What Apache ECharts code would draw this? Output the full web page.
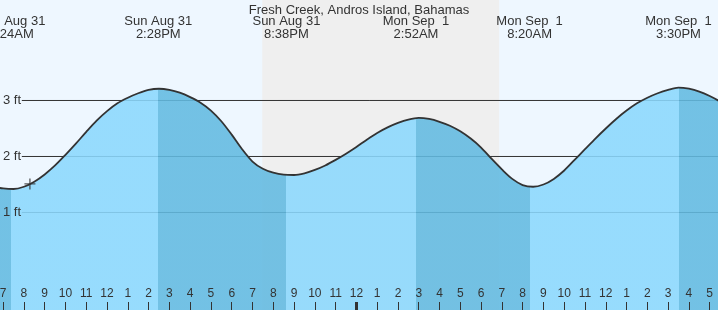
<!DOCTYPE html>
<html>
<head>
<meta charset="utf-8">
<script src="https://cdn.jsdelivr.net/npm/echarts@6/dist/echarts.min.js"></script>
<style>
html,body{margin:0;padding:0;background:#eef7ff;}
#chart{width:718px;height:310px;}
</style>
</head>
<body>
<div id="chart"></div>
<script>
// ---- data (hours counted from midnight starting Sun Aug 31) ----
const titleText = 'Fresh Creek, Andros Island, Bahamas';
const tideHours = [6.5, 7, 7.5, 8, 8.5, 9, 9.5, 10, 10.5, 11, 11.5, 12, 12.5, 13, 13.5, 14, 14.5,
  15, 15.5, 16, 16.5, 17, 17.5, 18, 18.5, 19, 19.5, 20, 20.5, 21, 21.5, 22, 22.5, 23, 23.5, 24,
  24.5, 25, 25.5, 26, 26.5, 27, 27.5, 28, 28.5, 29, 29.5, 30, 30.5, 31, 31.5, 32, 32.5, 33, 33.5,
  34, 34.5, 35, 35.5, 36, 36.5, 37, 37.5, 38, 38.5, 39, 39.5, 40, 40.5, 41, 41.5, 42];
const tideFeet = [1.46, 1.43, 1.42, 1.46, 1.55, 1.68, 1.84, 2.03, 2.23, 2.44, 2.64, 2.81, 2.95, 3.05, 3.13, 3.19, 3.21,
  3.19, 3.14, 3.06, 2.96, 2.82, 2.63, 2.39, 2.13, 1.91, 1.78, 1.71, 1.675, 1.67, 1.70, 1.76, 1.84, 1.94, 2.05, 2.17,
  2.30, 2.42, 2.52, 2.60, 2.66, 2.69, 2.67, 2.62, 2.55, 2.45, 2.32, 2.16, 1.96, 1.77, 1.60, 1.49, 1.46, 1.50, 1.60,
  1.75, 1.94, 2.13, 2.32, 2.50, 2.67, 2.82, 2.95, 3.05, 3.13, 3.19, 3.23, 3.21, 3.16, 3.08, 2.98, 2.84];
const extremeHours = [7.4, 14.467, 20.633, 26.867, 32.333, 39.5];
const extremeDays  = ['Sun Aug 31', 'Sun Aug 31', 'Sun Aug 31', 'Mon Sep  1', 'Mon Sep  1', 'Mon Sep  1'];
const extremeTimes = ['7:24AM', '2:28PM', '8:38PM', '2:52AM', '8:20AM', '3:30PM'];
const hourTicks  = [7, 8, 9, 10, 11, 12, 13, 14, 15, 16, 17, 18, 19, 20, 21, 22, 23, 24, 25, 26, 27, 28, 29, 30, 31, 32, 33, 34, 35, 36, 37, 38, 39, 40, 41];
const hourLabels = ['7','8','9','10','11','12','1','2','3','4','5','6','7','8','9','10','11','12','1','2','3','4','5','6','7','8','9','10','11','12','1','2','3','4','5'];
const midnightHours = [24];
const levelFeet   = [1, 2, 3];
const levelLabels = ['1 ft', '2 ft', '3 ft'];
const sunsetHour = 19.47, sunriseHour = 30.87;
const nowHour = 8.29, nowFeet = 1.51;

// ---- view settings ----
const xMin = 6.85, xMax = 41.40;
const yMin = -0.7411, yMax = 4.7946;
const levelStart = 7.9;
const FONT = 'Liberation Sans, Arial, sans-serif';
const INK = '#333333';
const LIGHT = 'rgb(139,216,253)';
const DARK = 'rgb(98,186,225)';

const pieces = [];
let prev = null;
extremeHours.forEach((h, i) => {
  const p = { lt: h, color: (i % 2 === 0) ? DARK : LIGHT };
  if (prev !== null) p.gte = prev;
  pieces.push(p);
  prev = h;
});
pieces.push({ gte: prev, color: DARK });

const tideData = tideHours.map((h, i) => [h, tideFeet[i]]);

const baseX = {
  type: 'value', min: xMin, max: xMax, z: 10,
  axisLine: { show: false, onZero: false }, splitLine: { show: false }
};

const series = [
  {
    // night shading
    type: 'line', z: 1, data: tideData, showSymbol: false, lineStyle: { color: 'transparent', width: 0 }, silent: true,
    markArea: {
      silent: true,
      itemStyle: { color: '#efefef' },
      data: [[{ xAxis: sunsetHour, yAxis: yMin }, { xAxis: sunriseHour, yAxis: yMax }]]
    }
  }
];
levelFeet.forEach(v => {
  series.push({
    type: 'line', z: 2, silent: true, showSymbol: false,
    data: [[levelStart, v], [xMax, v]],
    lineStyle: { color: INK, width: 1 }
  });
});
const areaIndex = series.length;
series.push(
  {
    // water fill
    type: 'line', z: 3, data: tideData, smooth: 0.3, showSymbol: false,
    lineStyle: { width: 0 },
    areaStyle: { opacity: 0.88, origin: 'start' }
  },
  {
    // tide curve
    type: 'line', z: 4, data: tideData, smooth: 0.3, showSymbol: false,
    lineStyle: { color: INK, width: 1.8 }
  },
  {
    // current time marker
    type: 'scatter', z: 6, data: [[nowHour, nowFeet]],
    symbol: 'path://M4.4,0h1.2v10h-1.2z M0,4.4h10v1.2h-10z', symbolSize: 11,
    itemStyle: { color: INK }
  }
);

const chart = echarts.init(document.getElementById('chart'), null, { renderer: 'canvas' });
chart.setOption({
  animation: false,
  backgroundColor: '#eef7ff',
  textStyle: { fontFamily: FONT },
  title: {
    text: titleText, left: 'center', top: -1, z: 12,
    textStyle: { fontFamily: FONT, fontSize: 13, fontWeight: 'normal', color: INK, lineHeight: 13 }
  },
  grid: { left: 0, right: 0, top: 0, bottom: 0, containLabel: false, outerBoundsMode: 'none' },
  xAxis: [
    Object.assign({}, baseX, {
      position: 'bottom',
      axisTick: { show: true, inside: true, length: 8, customValues: hourTicks, lineStyle: { color: INK, width: 1 } },
      axisLabel: {
        show: true, inside: true, margin: 10, customValues: hourTicks,
        fontFamily: FONT, fontSize: 12, color: INK,
        formatter: v => hourLabels[hourTicks.indexOf(Math.round(v))]
      }
    }),
    Object.assign({}, baseX, {
      position: 'top',
      axisTick: { show: false },
      axisLabel: {
        show: true, inside: true, margin: 14.5, customValues: extremeHours,
        fontFamily: FONT, fontSize: 13, color: INK, lineHeight: 13, align: 'center',
        formatter: v => {
          let k = 0;
          extremeHours.forEach((h, i) => { if (Math.abs(h - v) < Math.abs(extremeHours[k] - v)) k = i; });
          return extremeDays[k] + '\n' + extremeTimes[k];
        }
      }
    }),
    Object.assign({}, baseX, {
      position: 'bottom',
      axisTick: { show: true, inside: true, length: 8, customValues: midnightHours, lineStyle: { color: INK, width: 3 } },
      axisLabel: { show: false }
    })
  ],
  yAxis: {
    type: 'value', min: yMin, max: yMax, z: 10,
    axisLine: { show: false, onZero: false }, axisTick: { show: false }, splitLine: { show: false },
    axisLabel: {
      show: true, inside: true, margin: 3, customValues: levelFeet,
      fontFamily: FONT, fontSize: 13, color: INK,
      formatter: v => levelLabels[levelFeet.indexOf(Math.round(v))]
    }
  },
  visualMap: {
    type: 'piecewise', show: false, dimension: 0, seriesIndex: areaIndex, pieces: pieces
  },
  series: series
});
</script>
</body>
</html>
